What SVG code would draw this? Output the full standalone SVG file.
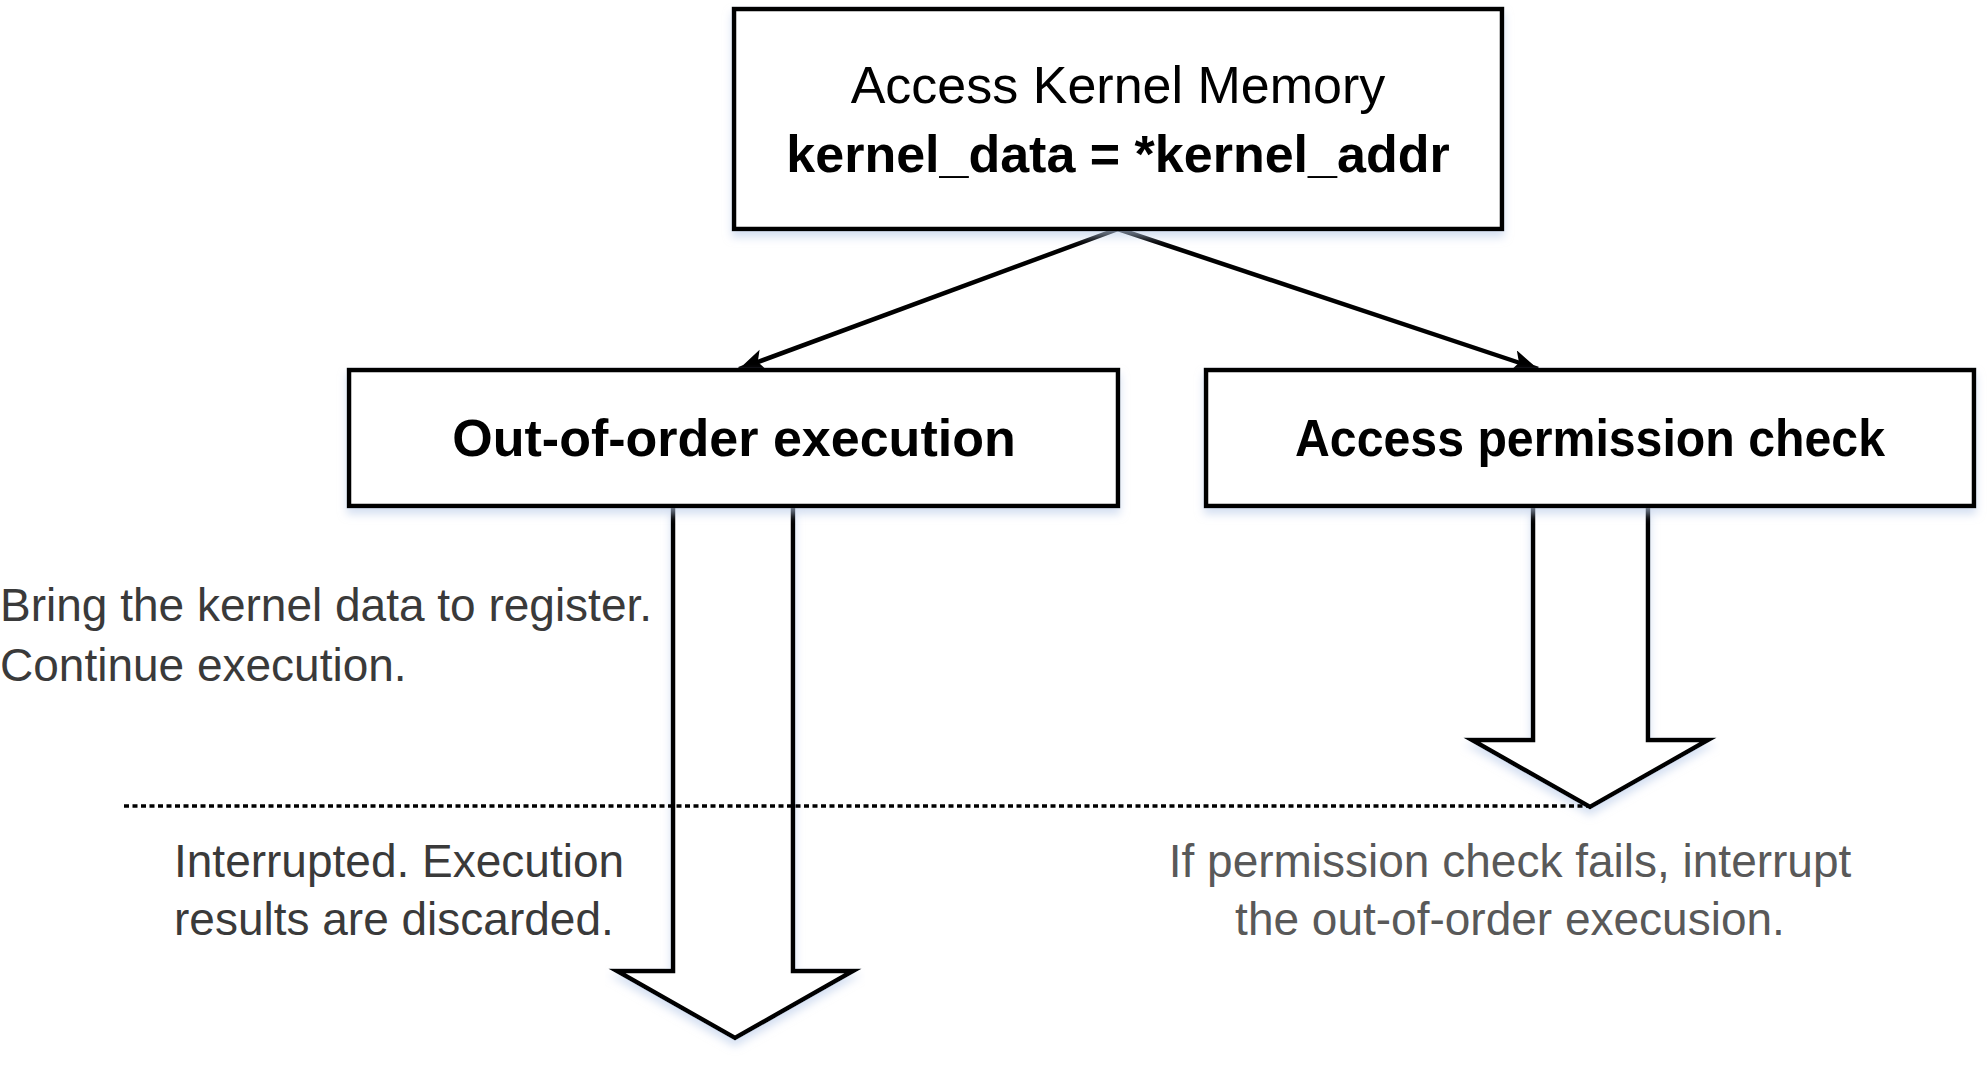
<svg xmlns="http://www.w3.org/2000/svg" width="1987" height="1065" viewBox="0 0 1987 1065">
  <defs>
    <style>
      .box { fill: #ffffff; stroke: #000000; stroke-width: 4.5; }
      .title { font-family: "Liberation Sans", Arial, sans-serif; font-size: 52px; fill: #000000; text-anchor: middle; }
      .bold { font-weight: bold; }
      .note { font-family: "Liberation Sans", Arial, sans-serif; font-size: 46px; fill: #3a3a3a; }
      .note2 { font-family: "Liberation Sans", Arial, sans-serif; font-size: 46px; fill: #595959; text-anchor: middle; }
      .conn { fill: none; stroke: #000000; stroke-width: 4.5; }
      .block { fill: #ffffff; stroke: #000000; stroke-width: 4.5; stroke-linejoin: miter; }
      .dotted { fill: none; stroke: #000000; stroke-width: 3.5; stroke-dasharray: 5 3.5; }
    </style>
    <filter id="shadow" x="-5%" y="-10%" width="110%" height="130%">
      <feDropShadow dx="0" dy="6" stdDeviation="4" flood-color="#b9cbe8" flood-opacity="0.6"/>
    </filter>
    <marker id="arrow" markerUnits="userSpaceOnUse" markerWidth="30" markerHeight="24" refX="26" refY="11" orient="auto">
      <path d="M0,0 L26,11 L0,22 L6,11 Z" fill="#000000"/>
    </marker>
  </defs>
  <rect width="1987" height="1065" fill="#ffffff"/>

  <g id="connectors">
    <line class="conn" x1="1118" y1="229" x2="739" y2="369" marker-end="url(#arrow)"/>
    <line class="conn" x1="1118" y1="229" x2="1538" y2="369" marker-end="url(#arrow)"/>
    <path id="block-left" class="block" filter="url(#shadow)" d="M673,506 L673,971 L617,971 L735,1038 L853,971 L793,971 L793,506"/>
    <path id="block-right" class="block" filter="url(#shadow)" d="M1533,506 L1533,740 L1472,740 L1590,807 L1708,740 L1648,740 L1648,506"/>
    <line class="dotted" x1="124" y1="806" x2="1588" y2="806"/>
  </g>

  <g id="node-access-kernel">
    <rect class="box" filter="url(#shadow)" x="734" y="9" width="768" height="220"/>
    <text class="title" x="1118" y="103">Access Kernel Memory</text>
    <text class="title bold" x="1118" y="172">kernel_data = *kernel_addr</text>
  </g>

  <g id="node-out-of-order">
    <rect class="box" filter="url(#shadow)" x="349" y="370" width="769" height="136"/>
    <text class="title bold" x="734" y="456">Out-of-order execution</text>
  </g>

  <g id="node-permission-check">
    <rect class="box" filter="url(#shadow)" x="1206" y="370" width="768" height="136"/>
    <text class="title bold" x="1590" y="456" textLength="590" lengthAdjust="spacingAndGlyphs">Access permission check</text>
  </g>

  <g id="labels">
    <text class="note" x="0" y="621">Bring the kernel data to register.</text>
    <text class="note" x="0" y="681">Continue execution.</text>
    <text class="note" x="174" y="877">Interrupted. Execution</text>
    <text class="note" x="174" y="935">results are discarded.</text>
    <text class="note2" x="1510" y="877">If permission check fails, interrupt</text>
    <text class="note2" x="1510" y="935">the out-of-order execusion.</text>
  </g>
</svg>
